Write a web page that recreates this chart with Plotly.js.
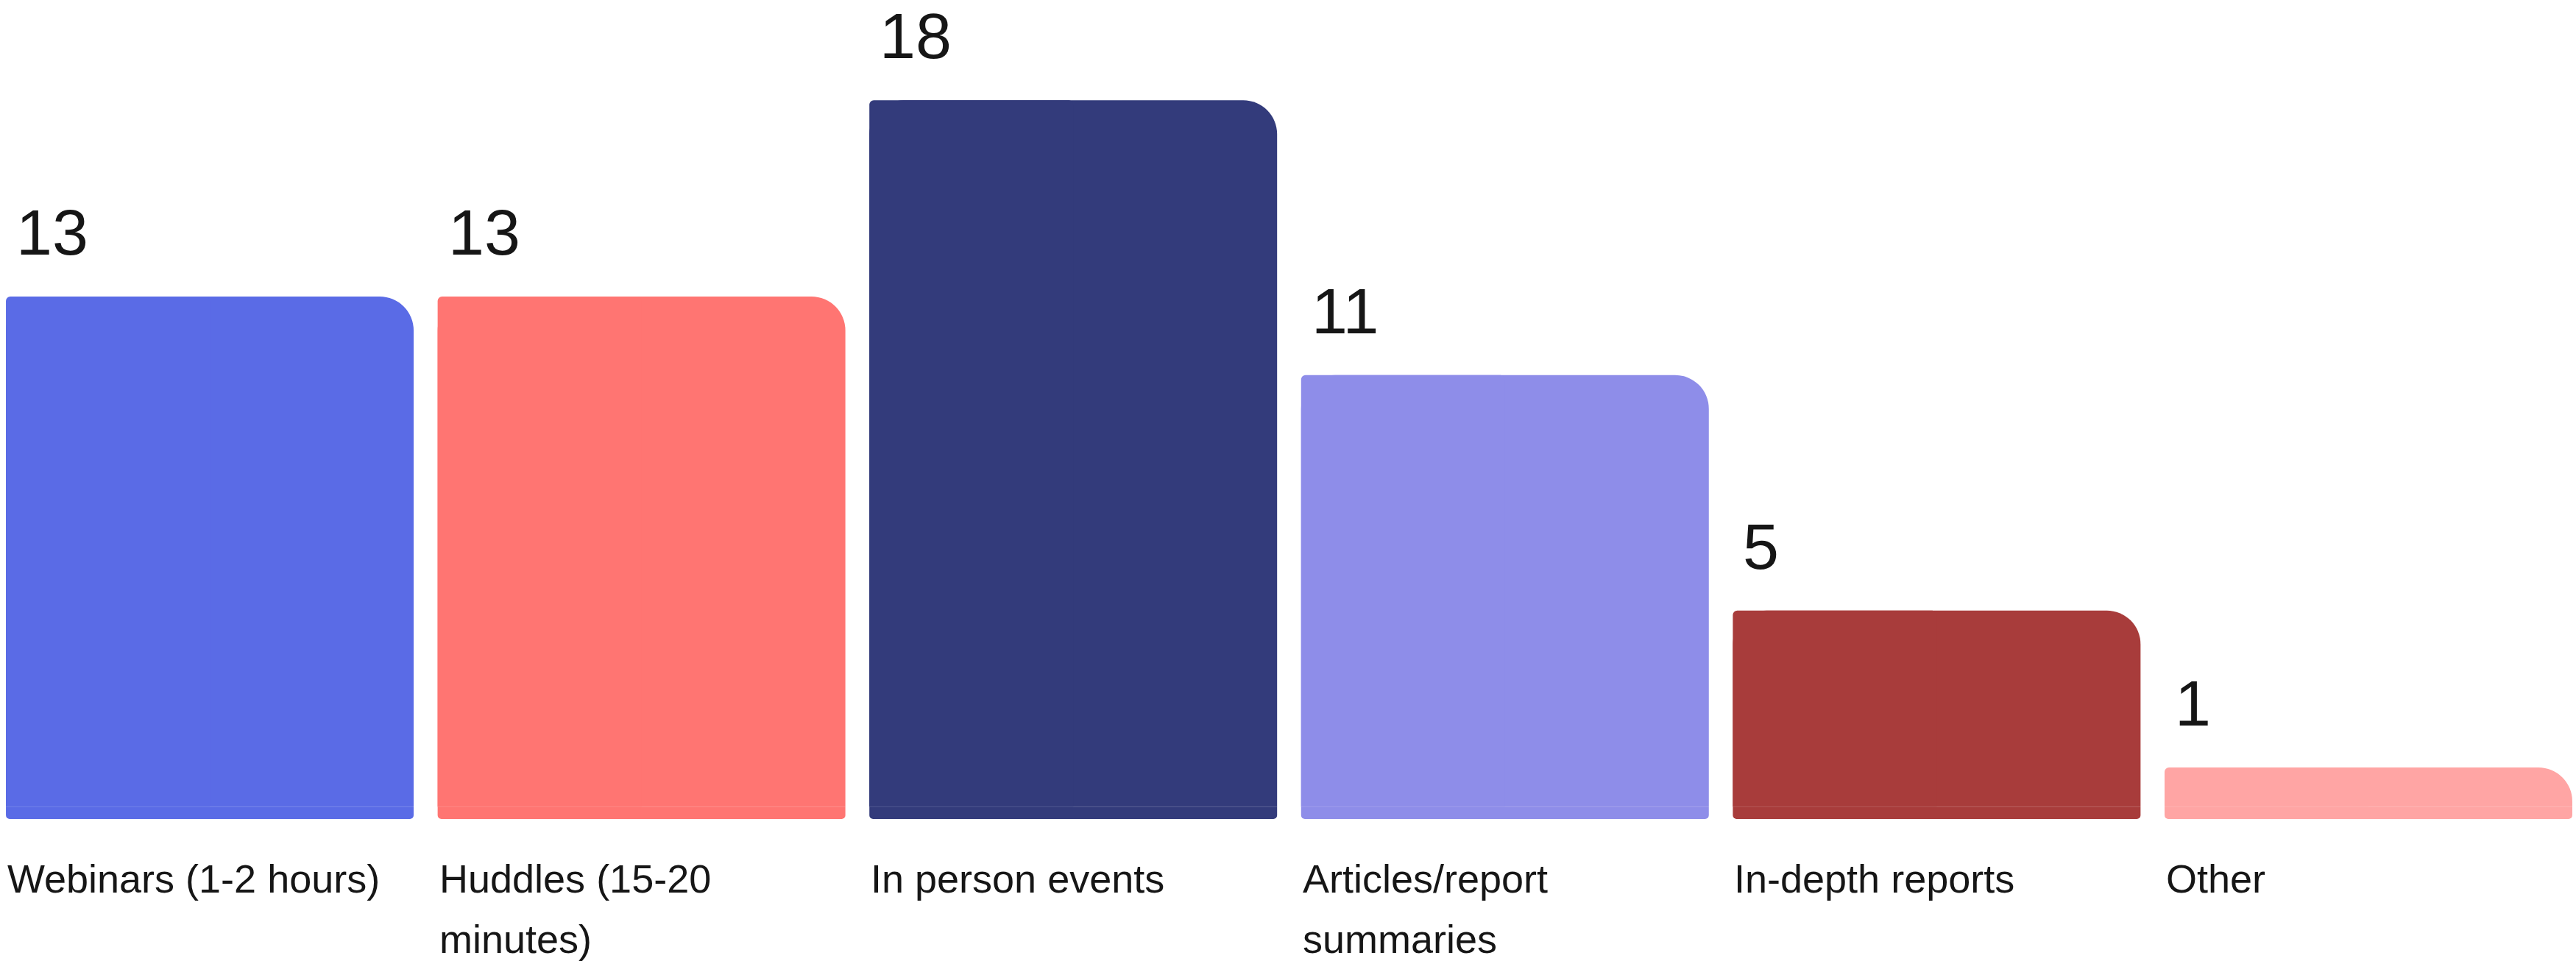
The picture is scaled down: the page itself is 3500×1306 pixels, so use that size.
<!DOCTYPE html>
<html>
<head>
<meta charset="utf-8">
<script src="https://cdn.plot.ly/plotly-3.0.1.min.js"></script>
<style>
  html, body { margin: 0; padding: 0; background: #ffffff; }
  #chart { width: 3500px; height: 1306px; }
</style>
</head>
<body>
<div id="chart"></div>
<script>
// ---- Data ----
const categories = [
  "Webinars (1-2 hours)",
  "Huddles (15-20 minutes)",
  "In person events",
  "Articles/report summaries",
  "In-depth reports",
  "Other"
];
const categoryLabelLines = [
  ["Webinars (1-2 hours)"],
  ["Huddles (15-20", "minutes)"],
  ["In person events"],
  ["Articles/report", "summaries"],
  ["In-depth reports"],
  ["Other"]
];
const values = [13, 13, 18, 11, 5, 1];
const valueLabels = ["13", "13", "18", "11", "5", "1"];
const barColors = ["#5A6BE6", "#FF7572", "#333B7B", "#8E8DE9", "#A83C3B", "#FFA5A4"];

// ---- Styling constants ----
const BAR_WIDTH = 0.9444;      // in category units
const FOOT_DEPTH = -0.313;     // small foot below zero, as in the reference
const TEXT_COLOR = "#161616";
const FONT = "Liberation Sans, Arial, sans-serif";

// main bar, large top-right rounding
const traceRound = {
  type: "bar",
  x: categories,
  y: values,
  width: BAR_WIDTH,
  marker: { color: barColors, cornerradius: 46, line: { width: 0 } },
  hoverinfo: "skip",
  showlegend: false
};
// left half overlay, small top-left rounding
const traceLeft = {
  type: "bar",
  x: categories,
  y: values,
  width: BAR_WIDTH / 2,
  offset: -BAR_WIDTH / 2,
  marker: { color: barColors, cornerradius: 6, line: { width: 0 } },
  hoverinfo: "skip",
  showlegend: false
};
// short foot below the zero line with small bottom rounding
const traceFoot = {
  type: "bar",
  x: categories,
  y: categories.map(() => FOOT_DEPTH),
  width: BAR_WIDTH,
  marker: { color: barColors, cornerradius: 5, line: { width: 0 } },
  hoverinfo: "skip",
  showlegend: false
};

const annotations = [];
values.forEach((v, i) => {
  annotations.push({
    xref: "x", yref: "y",
    x: i - BAR_WIDTH / 2, y: v,
    xanchor: "left", yanchor: "bottom",
    xshift: 12, yshift: 36,
    text: valueLabels[i],
    showarrow: false,
    font: { family: FONT, size: 88, color: TEXT_COLOR }
  });
  categoryLabelLines[i].forEach((line, k) => {
    annotations.push({
      xref: "x", yref: "paper",
      x: i - BAR_WIDTH / 2, y: 0,
      xanchor: "left", yanchor: "top",
      xshift: 0, yshift: -49 - 82 * k,
      text: line,
      align: "left",
      showarrow: false,
      font: { family: FONT, size: 54, color: TEXT_COLOR }
    });
  });
});

const layout = {
  width: 3500,
  height: 1306,
  margin: { l: 0, r: 0, t: 0, b: 193, pad: 0 },
  paper_bgcolor: "#ffffff",
  plot_bgcolor: "#ffffff",
  barmode: "overlay",
  showlegend: false,
  xaxis: {
    type: "category",
    range: [-0.4859, 5.4808],
    showticklabels: false,
    showgrid: false,
    zeroline: false,
    showline: false,
    ticks: ""
  },
  yaxis: {
    range: [-0.313, 20.556],
    showticklabels: false,
    showgrid: false,
    zeroline: false,
    showline: false,
    ticks: ""
  },
  annotations: annotations
};

Plotly.newPlot("chart", [traceFoot, traceRound, traceLeft], layout, { staticPlot: true, displayModeBar: false });
</script>
</body>
</html>
